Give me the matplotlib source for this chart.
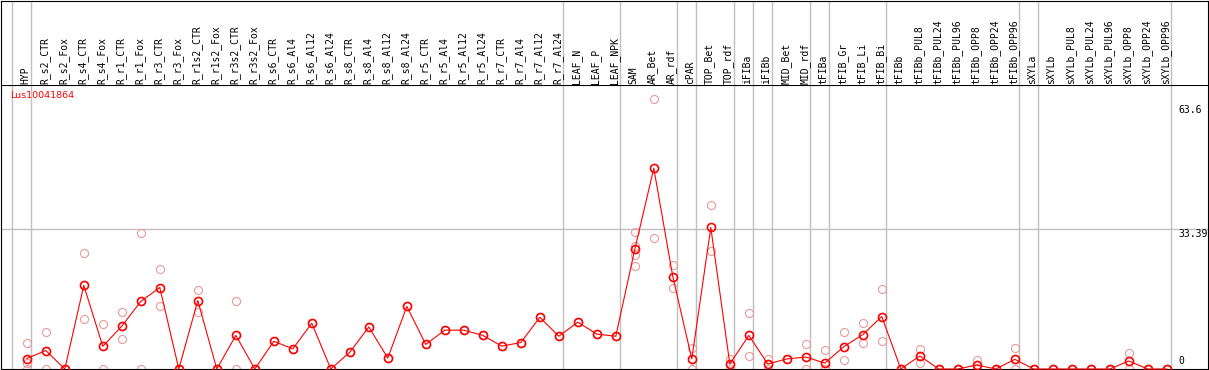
import matplotlib
matplotlib.use("Agg")
import matplotlib.pyplot as plt

gene = "Lus10041864"

labels = ["HYP", "R_s2_CTR", "R_s2_Fox", "R_s4_CTR", "R_s4_Fox", "R_r1_CTR", "R_r1_Fox",
          "R_r3_CTR", "R_r3_Fox", "R_r1s2_CTR", "R_r1s2_Fox", "R_r3s2_CTR", "R_r3s2_Fox",
          "R_s6_CTR", "R_s6_Al4", "R_s6_Al12", "R_s6_Al24", "R_s8_CTR", "R_s8_Al4",
          "R_s8_Al12", "R_s8_Al24", "R_r5_CTR", "R_r5_Al4", "R_r5_Al12", "R_r5_Al24",
          "R_r7_CTR", "R_r7_Al4", "R_r7_Al12", "R_r7_Al24", "LEAF_N", "LEAF_P", "LEAF_NPK",
          "SAM", "AR_Bet", "AR_rdf", "cPAR", "TOP_Bet", "TOP_rdf", "iFIBa", "iFIBb",
          "MID_Bet", "MID_rdf", "tFIBa", "tFIB_Gr", "tFIB_Li", "tFIB_Bi", "tFIBb",
          "tFIBb_PUL8", "tFIBb_PUL24", "tFIBb_PUL96", "tFIBb_OPP8", "tFIBb_OPP24",
          "tFIBb_OPP96", "sXYLa", "sXYLb", "sXYLb_PUL8", "sXYLb_PUL24", "sXYLb_PUL96",
          "sXYLb_OPP8", "sXYLb_OPP24", "sXYLb_OPP96"]

means = [2.5, 4.4, 0, 19.9, 5.4, 10.2, 16.1, 19.4, 0, 16.3, 0, 8.0, 0,
         6.6, 4.8, 10.9, 0, 4.0, 10.0, 2.6, 14.9, 5.85, 9.25, 9.25, 8.0,
         5.45, 6.3, 12.3, 7.8, 11.15, 8.3, 7.8,
         28.5, 47.8, 22.0, 2.4, 33.7, 1.2, 8.0, 1.2, 2.4, 2.85, 1.4, 5.3, 8.2, 12.5,
         0, 3.1, 0, 0, 0.95, 0, 2.3, 0, 0, 0, 0, 0, 1.9, 0, 0]

# replicate values per sample (light circles)
reps = [[6.1, 1.4, 0], [8.9, 0], [0, 0], [27.7, 12.0], [10.8, 0], [13.5, 7.1],
        [32.4, 0], [23.7, 14.9], [0, 0], [18.9, 13.5], [0, 0], [16.3, 0], [0, 0],
        [6.6], [4.8], [10.9], [0, 0], [4.0], [10.0], [2.6], [14.9], [5.85], [9.25],
        [9.25], [8.0], [5.45], [6.3], [12.3], [7.8], [11.15], [8.3], [7.8],
        [32.7, 29.4, 27.1, 24.5], [64.4, 31.3], [24.7, 19.4], [5.1, 0], [39.1, 28.2],
        [2.3, 0], [13.3, 3.0], [2.45, 0], [2.4], [5.9, 0], [4.5, 0, 0], [8.8, 2.2],
        [10.9, 6.1], [19.0, 6.6], [0, 0], [4.7, 1.35], [0, 0], [0, 0], [2.1, 0],
        [0, 0], [5.0, 0], [0, 0], [0, 0], [0, 0], [0, 0], [0, 0], [3.8, 0], [0, 0], [0, 0]]

# group separators come after these sample indices
group_ends = [-1, 0, 28, 31, 34, 35, 37, 38, 39, 41, 42, 45, 52, 53, 60]

y_labels = [63.6, 33.39, 0]

W, H = 1209, 370
px_x0, px_step = 26.8, 19.0      # pixel x of first sample, spacing
px_zero, px_unit = 369.0, 4.2    # pixel y of zero, pixels per unit
px_head = 85.0

fig = plt.figure(figsize=(W / 100, H / 100), dpi=100)
xl = ((1 - px_x0) / px_step, (1208 - px_x0) / px_step)

ax = fig.add_axes([1 / W, (H - px_zero) / H, 1207 / W, (px_zero - px_head) / H])
hd = fig.add_axes([1 / W, (H - px_head) / H, 1207 / W, (px_head - 0.5) / H])

grey = "#c0c0c0"
for a in (ax, hd):
    a.set_xlim(*xl)
    a.set_xticks([])
    a.set_yticks([])
    for s in a.spines.values():
        s.set_linewidth(0.8)
        s.set_color("black")
    for g in group_ends:
        a.axvline(g + 4 / px_step, color=grey, lw=1.0, zorder=0)

ax.set_ylim(0, (px_zero - px_head) / px_unit)
hd.set_ylim(px_head - 0.5, 0)
hd.spines["bottom"].set_visible(False)

ax.axhline(33.39, color=grey, lw=1.0, zorder=0)

xs = list(range(len(labels)))
for i, r in enumerate(reps):
    ax.plot([i] * len(r), r, linestyle="none", marker="o", ms=5.8, mfc="none",
            mec="#e99a9a", mew=0.8, clip_on=False, zorder=2)

ax.plot(xs, means, color="#ff0000", lw=0.8, marker="o", ms=5.8, mfc="none",
        mec="#ff0000", mew=1.2, clip_on=False, zorder=3)

for i, lab in enumerate(labels):
    hd.text(i + 1.5 / px_step, 83.5, lab, rotation=90, rotation_mode="anchor",
            ha="left", va="baseline", fontsize=7.05, family="DejaVu Sans Mono")

ax.text((10 - px_x0) / px_step, (px_zero - 95) / px_unit, gene, color="#ff0000",
        fontsize=6.8, ha="left", va="center", family="DejaVu Sans")

lx = (1178 - px_x0) / px_step
offs = {63.6: -3, 33.39: -0.5}
for v in y_labels:
    if v == 0:
        ax.annotate("0", (lx, 0), xytext=(0, 3), textcoords="offset pixels",
                    ha="left", va="bottom", fontsize=7.05, family="DejaVu Sans Mono")
    else:
        ax.annotate(f"{v:g}", (lx, v), xytext=(0, offs[v]), textcoords="offset pixels",
                    ha="left", va="top", fontsize=7.05, family="DejaVu Sans Mono")

fig.savefig("out.png", dpi=100)
